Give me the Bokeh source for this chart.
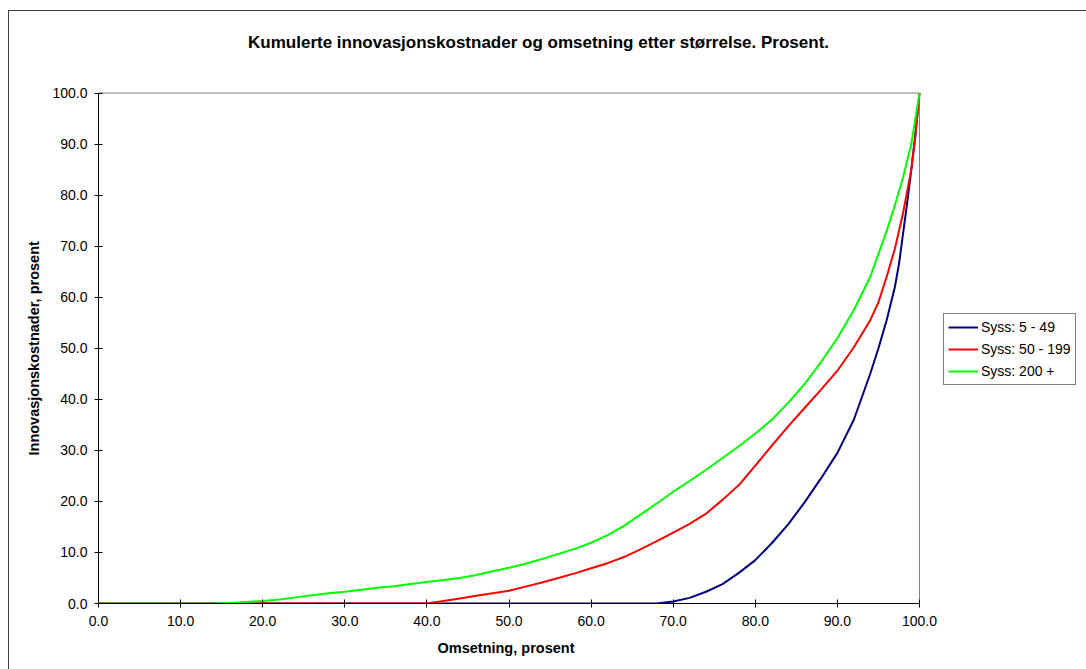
from bokeh.plotting import figure
from bokeh.models import (Range1d, NumeralTickFormatter, Legend, LegendItem, FixedTicker,
                          Label, BoxAnnotation, Title)
from bokeh.embed import file_html
from bokeh.resources import INLINE

# Cumulative share of turnover (x) vs. cumulative share of innovation costs (y)
small_x = [0, 10, 20, 30, 40, 50, 60, 65, 68, 70, 72, 74, 76, 78, 80, 82, 84, 86, 88,
           90, 92, 94, 95, 96, 97, 97.5, 98, 98.5, 99, 99.5, 100]
small_y = [0, 0, 0, 0, 0, 0, 0, 0, 0, 0.4, 1.1, 2.3, 3.8, 6.0, 8.5, 11.8, 15.5, 19.8, 24.5,
           29.5, 36.0, 45.0, 50.0, 55.5, 62.0, 66.5, 72.5, 78.5, 85.0, 92.0, 100]

medium_x = [0, 10, 20, 30, 40, 42, 44, 46, 48, 50, 52, 54, 56, 58, 60, 62, 64, 66, 68, 70,
            72, 74, 76, 78, 80, 82, 84, 86, 88, 90, 92, 94, 95, 96, 97, 98, 99, 99.5, 100]
medium_y = [0, 0, 0, 0, 0, 0.5, 1.0, 1.5, 2.0, 2.5, 3.3, 4.1, 5.0, 5.9, 6.9, 7.9, 9.1, 10.6,
            12.2, 13.9, 15.6, 17.6, 20.3, 23.2, 27.0, 30.9, 34.7, 38.3, 41.9, 45.6, 50.2,
            55.5, 59.0, 64.0, 69.5, 76.5, 85.0, 91.5, 100]

large_x = [0, 10, 14, 16, 18, 20, 22, 24, 26, 28, 30, 32, 34, 36, 38, 40, 42, 44, 46, 48,
           50, 52, 54, 56, 58, 60, 62, 64, 66, 68, 70, 72, 74, 76, 78, 80, 82, 84, 86, 88,
           90, 92, 94, 95, 96, 97, 98, 99, 100]
large_y = [0, 0, 0, 0.1, 0.3, 0.5, 0.8, 1.2, 1.6, 2.0, 2.3, 2.7, 3.1, 3.4, 3.8, 4.2, 4.6,
           5.0, 5.6, 6.3, 7.0, 7.8, 8.7, 9.7, 10.7, 11.9, 13.4, 15.2, 17.4, 19.6, 21.9,
           24.0, 26.2, 28.5, 30.8, 33.3, 36.0, 39.3, 43.0, 47.3, 52.0, 57.5, 64.0, 68.5,
           73.0, 78.0, 83.5, 90.0, 100]

series_names = ["Syss: 5 - 49", "Syss: 50 - 199", "Syss: 200 +"]
series_colors = ["#000080", "#FF0000", "#00FF00"]
series_data = [(small_x, small_y), (medium_x, medium_y), (large_x, large_y)]
ticks = [0, 10, 20, 30, 40, 50, 60, 70, 80, 90, 100]
title_text = "Kumulerte innovasjonskostnader og omsetning etter størrelse. Prosent."
x_label = "Omsetning, prosent"
y_label = "Innovasjonskostnader, prosent"

FONT = "Liberation Sans"

# Page geometry (pixels). The canvas frame is stretched up and to the right so the
# title and the key can sit inside it; the 0-100 plot box keeps its own size.
FIG_W, FIG_H = 1077, 658
BORDER_L, BORDER_B = 89, 66
BOX_W, BOX_H = 821, 510.5
frame_w = FIG_W - BORDER_L
frame_h = FIG_H - BORDER_B
x_end = ticks[-1] * frame_w / BOX_W
y_end = ticks[-1] * frame_h / BOX_H

p = figure(width=FIG_W, height=FIG_H, output_backend="svg", toolbar_location=None,
           title=None, x_range=Range1d(0, x_end), y_range=Range1d(0, y_end),
           min_border_left=BORDER_L, min_border_top=0, min_border_right=0,
           min_border_bottom=BORDER_B)
p.margin = (11, 0, 0, 9)
p.styles = {"outline": "1px solid #404040"}

p.xgrid.visible = False
p.ygrid.visible = False
p.outline_line_color = None
p.background_fill_color = "white"
p.border_fill_color = "white"

# plot-area box (top and right edges; left and bottom are covered by the axes)
p.add_layout(BoxAnnotation(left=ticks[0], right=ticks[-1], bottom=ticks[0], top=ticks[-1],
                           fill_color=None, fill_alpha=0, line_color="#808080",
                           line_alpha=1, line_width=1, level="underlay"))

for ax in (p.xaxis[0], p.yaxis[0]):
    ax.bounds = (ticks[0], ticks[-1])
    ax.ticker = FixedTicker(ticks=ticks)
    ax.formatter = NumeralTickFormatter(format="0.0")
    ax.major_tick_in = 4
    ax.major_tick_out = 4
    ax.minor_tick_in = 0
    ax.minor_tick_out = 0
    ax.axis_line_color = "black"
    ax.major_tick_line_color = "black"
    ax.major_label_text_font = FONT
    ax.major_label_text_font_size = "14px"
    ax.major_label_text_color = "black"

p.xaxis.major_label_standoff = 8
p.yaxis.major_label_standoff = 7

# axis titles as panel titles so they centre on the 0-100 box, not the stretched frame
p.add_layout(Title(text=x_label, align="left", offset=339, standoff=19,
                   text_font=FONT, text_font_size="14.5px", text_font_style="bold",
                   text_color="black"), "below")
p.add_layout(Title(text=y_label, align="left", offset=148, standoff=15,
                   text_font=FONT, text_font_size="14.5px", text_font_style="bold",
                   text_color="black"), "left")

renderers = []
for (xs, ys), color in zip(series_data, series_colors):
    renderers.append(p.line(xs, ys, line_color=color, line_width=2))

legend = Legend(items=[LegendItem(label=n, renderers=[r])
                       for n, r in zip(series_names, renderers)],
                location=(845, 218))
legend.border_line_color = "black"
legend.border_line_width = 1
legend.background_fill_color = "white"
legend.background_fill_alpha = 1
legend.label_text_font = FONT
legend.label_text_font_size = "14px"
legend.label_text_color = "black"
legend.glyph_width = 30
legend.glyph_height = 18
legend.label_height = 18
legend.spacing = 4
legend.padding = 4
legend.margin = 0
legend.label_standoff = 3
p.add_layout(legend, "center")

p.add_layout(Label(x=53.6, y=109.9, text=title_text, text_font=FONT,
                   text_font_size="17px", text_font_style="bold", text_color="black",
                   text_align="center", text_baseline="middle"))

open("out.html", "w").write(file_html(p, INLINE))
